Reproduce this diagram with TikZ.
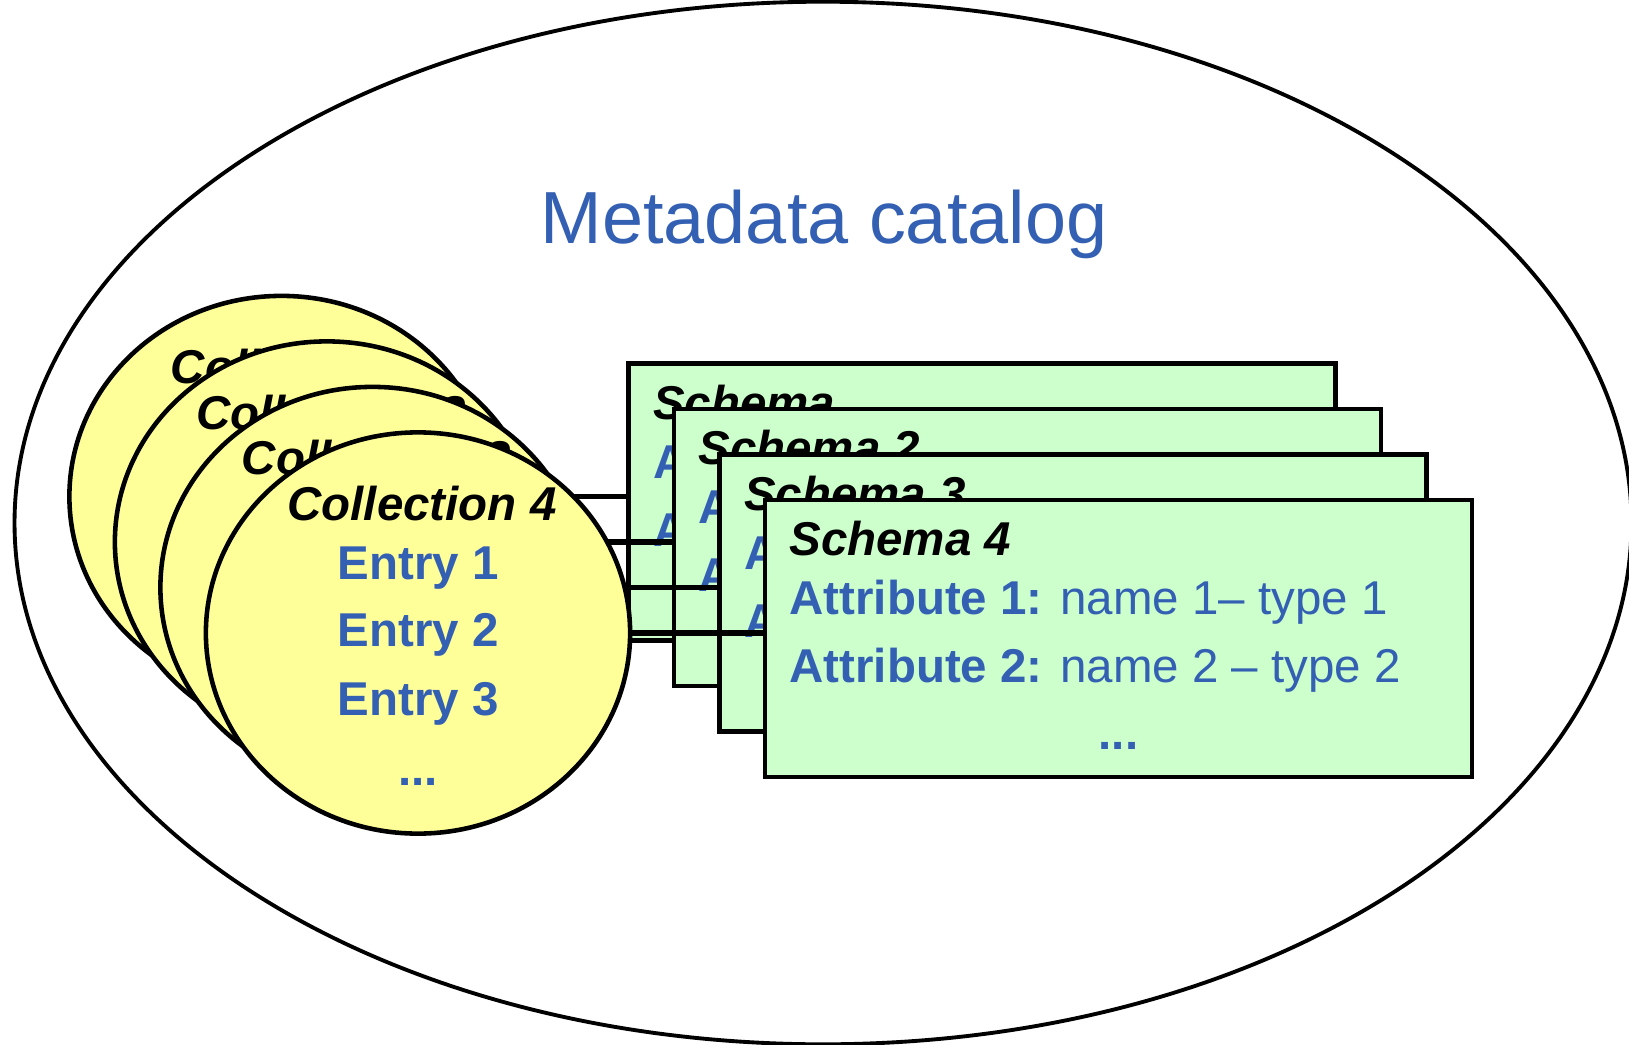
\documentclass[tikz,border=0pt]{standalone}
\usepackage{fontspec}
\setmainfont{Liberation Sans}
\usetikzlibrary{shapes.geometric}
\usetikzlibrary{calc}
\definecolor{catblue}{RGB}{52,96,180}
\definecolor{collyellow}{RGB}{255,255,153}
\definecolor{schemagreen}{RGB}{204,255,204}
\tikzset{coll/.style={ellipse,draw,line width=1.3pt,fill=collyellow,minimum width=4.24cm,minimum height=4.01cm,inner sep=0pt,outer sep=0pt}}
\tikzset{schm/.style={rectangle,draw,line width=1.3pt,fill=schemagreen,minimum width=7.07cm,minimum height=2.77cm,inner sep=0pt,outer sep=0pt}}
\tikzset{hd/.style={font=\fontsize{13.5}{13.5}\selectfont\bfseries\itshape,inner sep=0pt}}
\tikzset{en/.style={font=\fontsize{13.5}{13.5}\selectfont\bfseries,text=catblue,inner sep=0pt,anchor=base}}
\tikzset{atr/.style={font=\fontsize{13.5}{13.5}\selectfont,text=catblue,inner sep=0pt,anchor=base west}}
\tikzset{lnk/.style={line width=1.5pt}}

\begin{document}
\begin{tikzpicture}[x=0.01cm,y=-0.01cm]
          \useasboundingbox (0,0) rectangle (1629,1045);
          \node[ellipse,draw,line width=1.1pt,minimum width=16.16cm,minimum height=10.42cm,inner sep=0pt] (Catalog) at (823,523) {};
          \node[font=\fontsize{21}{21}\selectfont,text=catblue,anchor=base,inner sep=0pt] (CatTitle) at ($(Catalog.north)+(1,244)$) {Metadata catalog};
          % collection 1 and schema 1
          \node[coll] (Coll1) at (281.5,496.5) {};
          \node[hd,anchor=base] at ($(Coll1.center)+(4,-113)$) {Collection};
          \node[schm] (Schema1) at (982,502) {};
          \node[hd,anchor=base west] at ($(Schema1.north west)+(24,56)$) {Schema};
          \node[atr] at ($(Schema1.north west)+(24,115)$) {\textbf{Attribute 1:} name 1– type 1};
          \node[atr] at ($(Schema1.north west)+(24,183)$) {\textbf{Attribute 2:} name 2 – type 2};
          \draw[lnk] (Coll1.east) -- (Coll1.east -| Schema1.west);
          % collection 2 and schema 2
          \node[coll] (Coll2) at (327,542) {};
          \node[hd,anchor=base] at ($(Coll2.center)+(4,-113)$) {Collection 2};
          \node[schm] (Schema2) at (1027.5,547.5) {};
          \node[hd,anchor=base west] at ($(Schema2.north west)+(24,56)$) {Schema 2};
          \node[atr] at ($(Schema2.north west)+(24,115)$) {\textbf{Attribute 1:} name 1– type 1};
          \node[atr] at ($(Schema2.north west)+(24,183)$) {\textbf{Attribute 2:} name 2 – type 2};
          \draw[lnk] (Coll2.east) -- (Coll2.east -| Schema2.west);
          % collection 3 and schema 3
          \node[coll] (Coll3) at (372.5,587.5) {};
          \node[hd,anchor=base] at ($(Coll3.center)+(4,-113)$) {Collection 3};
          \node[schm] (Schema3) at (1073,593) {};
          \node[hd,anchor=base west] at ($(Schema3.north west)+(24,56)$) {Schema 3};
          \node[atr] at ($(Schema3.north west)+(24,115)$) {\textbf{Attribute 1:} name 1– type 1};
          \node[atr] at ($(Schema3.north west)+(24,183)$) {\textbf{Attribute 2:} name 2 – type 2};
          \draw[lnk] (Coll3.east) -- (Coll3.east -| Schema3.west);
          % collection 4 and schema 4
          \node[coll] (Coll4) at (418,633) {};
          \node[hd,anchor=base] at ($(Coll4.center)+(4,-113)$) {Collection 4};
          \node[en] at ($(Coll4.center)+(0,-54)$) {Entry 1};
          \node[en] at ($(Coll4.center)+(0,13)$) {Entry 2};
          \node[en] at ($(Coll4.center)+(0,82)$) {Entry 3};
          \node[en] at ($(Coll4.center)+(0,152)$) {...};
          \node[schm] (Schema4) at (1118.5,638.5) {};
          \node[hd,anchor=base west] at ($(Schema4.north west)+(24,56)$) {Schema 4};
          \node[atr] at ($(Schema4.north west)+(24,115)$) {\textbf{Attribute 1:} name 1– type 1};
          \node[atr] at ($(Schema4.north west)+(24,183)$) {\textbf{Attribute 2:} name 2 – type 2};
          \node[en] at ($(Schema4.north)+(0,250)$) {...};
          \draw[lnk] (Coll4.east) -- (Coll4.east -| Schema4.west);
        \end{tikzpicture}
\end{document}
